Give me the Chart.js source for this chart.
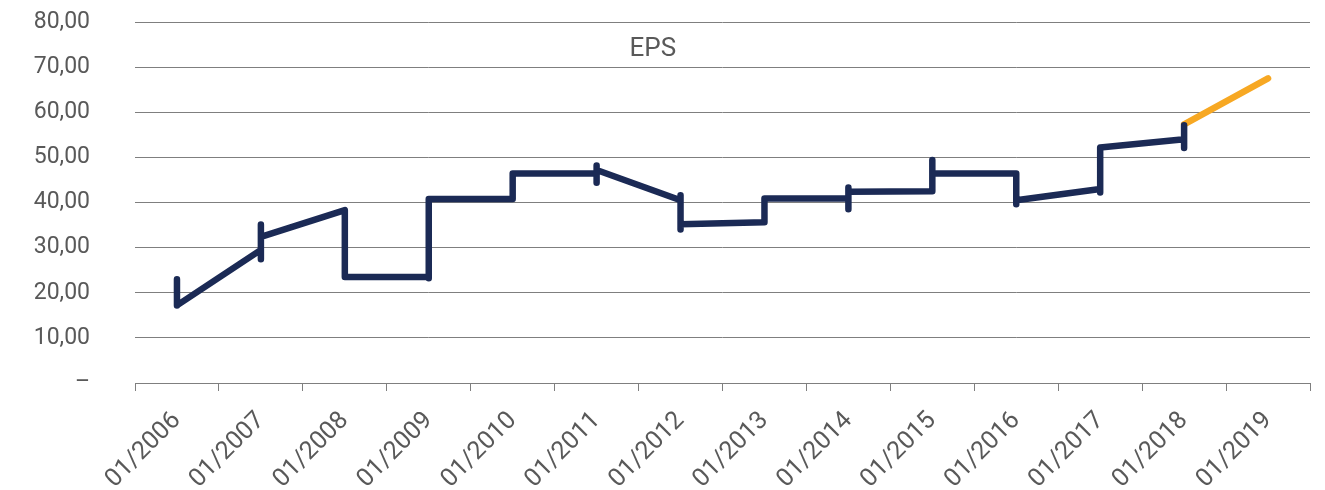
<!DOCTYPE html>
<html>
<head>
<meta charset="utf-8">
<script src="https://cdn.jsdelivr.net/npm/chart.js@4.4.1/dist/chart.umd.min.js"></script>
<style>
  html, body { margin: 0; padding: 0; background: #fff; overflow: hidden; }
  #wrap { width: 1325px; height: 490px; position: relative; }
</style>
</head>
<body>
<div id="wrap"><canvas id="epsChart"></canvas></div>
<script>
// EPS history (navy) - year of each point and its value
const epsDates = [2006, 2006, 2007, 2007, 2007, 2007, 2008, 2008, 2009, 2009, 2009,
  2010, 2010, 2011, 2011, 2011, 2011, 2012, 2012, 2012, 2012, 2013, 2013,
  2014, 2014, 2014, 2014, 2015, 2015, 2015, 2016, 2016, 2016, 2017, 2017, 2017,
  2018, 2018, 2018];
const epsValues = [23.0, 17.2, 29.5, 27.4, 35.1, 32.4, 38.3, 23.5, 23.5, 23.2, 40.8,
  40.8, 46.4, 46.4, 48.2, 44.4, 47.2, 40.5, 41.6, 34.0, 35.2, 35.6, 40.9,
  40.9, 43.3, 38.5, 42.4, 42.5, 49.4, 46.5, 46.4, 39.6, 40.5, 43.0, 42.2, 52.2,
  54.0, 57.1, 52.1];

// forecast (orange)
const forecastDates = [2018, 2019];
const forecastValues = [57.3, 67.5];

const yearTicks = [2006, 2007, 2008, 2009, 2010, 2011, 2012, 2013, 2014, 2015, 2016, 2017, 2018, 2019];
const yTicks = [0, 10, 20, 30, 40, 50, 60, 70, 80];

const textColor = '#595959';
const gridColor = '#7f7f7f';

function toPoints(xs, ys) {
  return xs.map(function (x, i) { return { x: x, y: ys[i] }; });
}

// "EPS" caption sits inside the plot area
const epsLabel = {
  id: 'epsLabel',
  afterDraw(chart) {
    const ctx = chart.ctx;
    const x = chart.scales.x.getPixelForValue(2011.67);
    const y = chart.scales.y.getPixelForValue(73.8);
    ctx.save();
    ctx.font = '26px Roboto';
    ctx.fillStyle = textColor;
    ctx.textAlign = 'center';
    ctx.textBaseline = 'middle';
    ctx.fillText('EPS', x, y);
    ctx.restore();
  }
};

function chart1() {
  const data = {
    datasets: [{
      label: 'EPS',
      data: toPoints(epsDates, epsValues),
      borderColor: '#1b2a55',
      borderWidth: 6.5,
      borderCapStyle: 'round',
      borderJoinStyle: 'round',
      pointRadius: 0,
      tension: 0
    },
    {
      label: 'Forecast',
      data: toPoints(forecastDates, forecastValues),
      borderColor: '#f7a823',
      borderWidth: 6.5,
      borderCapStyle: 'round',
      borderJoinStyle: 'round',
      pointRadius: 0,
      tension: 0
    }]
  };

  const config = {
    type: 'line',
    data: data,
    plugins: [epsLabel],
    options: {
      responsive: true,
      maintainAspectRatio: false,
      animation: false,
      layout: { padding: { left: 31, right: 15, top: 22, bottom: 0 } },
      plugins: {
        legend: { display: false },
        tooltip: { enabled: false }
      },
      scales: {
        x: {
          type: 'linear',
          min: yearTicks[0] - 0.5,
          max: yearTicks[yearTicks.length - 1] + 0.5,
          afterBuildTicks: function (scale) {
            const t = [];
            yearTicks.forEach(function (yr) {
              t.push({ value: yr - 0.5 });
              t.push({ value: yr });
            });
            t.push({ value: yearTicks[yearTicks.length - 1] + 0.5 });
            scale.ticks = t;
          },
          afterFit: function (scale) {
            scale.paddingLeft = 0;
            scale.paddingRight = 0;
            scale.height = 107;
          },
          ticks: {
            autoSkip: false,
            maxRotation: 45,
            minRotation: 45,
            padding: 15,
            color: textColor,
            font: { family: 'Roboto', size: 25 },
            callback: function (v) {
              return Number.isInteger(v) ? '01/' + v : '';
            }
          },
          grid: {
            drawOnChartArea: false,
            tickLength: 8,
            color: function (c) {
              return c.tick && !Number.isInteger(c.tick.value) ? gridColor : 'rgba(0,0,0,0)';
            }
          },
          border: { display: true, color: gridColor }
        },
        y: {
          min: 0,
          max: 80,
          afterBuildTicks: function (scale) {
            scale.ticks = yTicks.map(function (v) { return { value: v }; });
          },
          afterFit: function (scale) {
            scale.paddingTop = 0;
            scale.paddingBottom = 0;
            scale.width = 104;
          },
          ticks: {
            padding: 45,
            color: textColor,
            font: { family: 'Roboto', size: 23 },
            callback: function (v) {
              return v === 0 ? '–' : v.toFixed(2).replace('.', ',');
            }
          },
          grid: {
            color: gridColor,
            drawTicks: false
          },
          border: { display: false }
        }
      }
    }
  };

  const myChart = new Chart(document.getElementById('epsChart'), config);
}

chart1();
</script>
</body>
</html>
